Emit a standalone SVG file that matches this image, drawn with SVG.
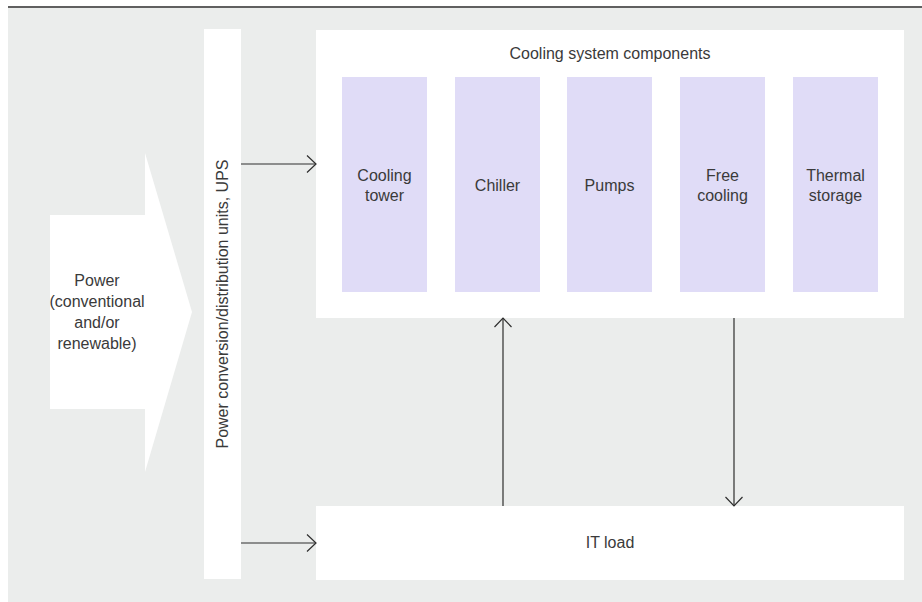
<svg xmlns="http://www.w3.org/2000/svg" width="922" height="602" viewBox="0 0 922 602">
<style>
text{font-family:"Liberation Sans",Arial,Helvetica,sans-serif;font-size:16px;fill:#3a3a3a;text-anchor:middle}
.box{fill:#ffffff}
.comp{fill:#e0dcf7}
.conn{stroke:#2e2e2e;stroke-width:1.2;fill:none}
</style>
<defs>
<marker id="ah" markerWidth="12" markerHeight="20" refX="10" refY="9" orient="auto" markerUnits="userSpaceOnUse">
<path d="M1,0.5 L10,9 L1,17.5" fill="none" stroke="#2e2e2e" stroke-width="1.2"/>
</marker>
</defs>
<rect x="8" y="8" width="914" height="594" fill="#ebedec"/>
<line x1="8" y1="7" x2="922" y2="7" stroke="#2b2b2b" stroke-width="1.5"/>
<g id="power">
<path class="box" d="M50,215 L145,215 L145,153 L192,312 L145,472 L145,409 L50,409 Z"/>
<text x="97" y="286">Power</text>
<text x="97" y="307">(conventional</text>
<text x="97" y="328">and/or</text>
<text x="97" y="349">renewable)</text>
</g>
<g id="ups">
<rect class="box" x="204" y="29" width="37" height="550"/>
<text transform="translate(228,304) rotate(-90)">Power conversion/distribution units, UPS</text>
</g>
<g id="cooling">
<rect class="box" x="316" y="30" width="588" height="288"/>
<text x="610" y="59">Cooling system components</text>
</g>
<g id="cooling-tower">
<rect class="comp" x="342" y="77" width="85" height="215"/>
<text x="384.5" y="181">Cooling</text>
<text x="384.5" y="201">tower</text>
</g>
<g id="chiller">
<rect class="comp" x="455" y="77" width="85" height="215"/>
<text x="497.5" y="191">Chiller</text>
</g>
<g id="pumps">
<rect class="comp" x="567" y="77" width="85" height="215"/>
<text x="609.5" y="191">Pumps</text>
</g>
<g id="free-cooling">
<rect class="comp" x="680" y="77" width="85" height="215"/>
<text x="722.5" y="181">Free</text>
<text x="722.5" y="201">cooling</text>
</g>
<g id="thermal-storage">
<rect class="comp" x="793" y="77" width="85" height="215"/>
<text x="835.5" y="181">Thermal</text>
<text x="835.5" y="201">storage</text>
</g>
<g id="it-load">
<rect class="box" x="316" y="506" width="588" height="74"/>
<text x="610" y="548">IT load</text>
</g>
<g id="connectors">
<line class="conn" x1="241" y1="164" x2="316" y2="164" marker-end="url(#ah)"/>
<line class="conn" x1="241" y1="543" x2="316" y2="543" marker-end="url(#ah)"/>
<line class="conn" x1="503" y1="506" x2="503" y2="318" marker-end="url(#ah)"/>
<line class="conn" x1="734" y1="318" x2="734" y2="506" marker-end="url(#ah)"/>
</g>
</svg>
